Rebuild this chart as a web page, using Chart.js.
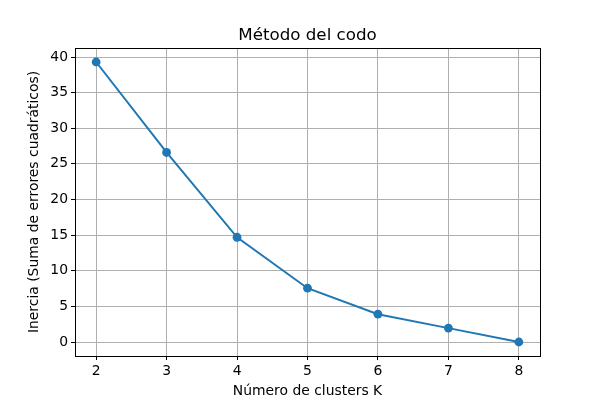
<!DOCTYPE html>
<html>
<head>
<meta charset="utf-8">
<script src="https://cdn.jsdelivr.net/npm/chart.js@4"></script>
<style>
html,body{margin:0;padding:0;background:#fff;}
#wrap{width:600px;height:400px;}
</style>
</head>
<body>
<div id="wrap"><canvas id="c" width="600" height="400"></canvas></div>
<script>
const clusters = [2, 3, 4, 5, 6, 7, 8];
const inertia = [39.3, 26.6, 14.7, 7.55, 3.9, 1.95, 0.0];
const xTicks = [2, 3, 4, 5, 6, 7, 8];
const yTicks = [0, 5, 10, 15, 20, 25, 30, 35, 40];
const chartTitle = 'Método del codo';

const FONT = "'DejaVu Sans', sans-serif";

const boxPlugin = {
  id: 'box',
  afterDraw(chart) {
    const {ctx, chartArea: a} = chart;
    ctx.save();
    ctx.strokeStyle = '#000';
    ctx.lineWidth = 1;
    ctx.strokeRect(Math.round(a.left) + 0.5, Math.round(a.top) + 0.5,
      Math.round(a.right - a.left), Math.round(a.bottom - a.top));
    ctx.fillStyle = '#000';
    ctx.font = '16.7px ' + FONT;
    ctx.textAlign = 'center';
    ctx.textBaseline = 'alphabetic';
    ctx.fillText(chartTitle, (a.left + a.right) / 2, a.top - 8.5);
    ctx.restore();
  }
};

new Chart(document.getElementById('c'), {
  type: 'line',
  data: {
    datasets: [{
      data: clusters.map((k, i) => ({x: k, y: inertia[i]})),
      borderColor: '#1f77b4',
      backgroundColor: '#1f77b4',
      borderWidth: 2,
      pointRadius: 4.4,
      pointHoverRadius: 4.4,
      pointBorderWidth: 0,
      tension: 0,
      clip: false
    }]
  },
  options: {
    responsive: false,
    animation: false,
    devicePixelRatio: 1,
    layout: {padding: {left: 0, right: 60, top: 48, bottom: 0}},
    plugins: {
      legend: {display: false},
      tooltip: {enabled: false},
      title: {display: false}
    },
    scales: {
      x: {
        type: 'linear',
        min: 1.7, max: 8.3,
        afterBuildTicks(s) { s.ticks = xTicks.map(v => ({value: v})); },
        afterFit(s) { s.height = 44; },
        grid: {color: '#b0b0b0', lineWidth: 1, tickLength: 4, tickColor: '#000', drawOnChartArea: true},
        border: {display: false},
        ticks: {color: '#000', font: {family: FONT, size: 13.9}, padding: 3, maxRotation: 0},
        title: {display: true, text: 'Número de clusters K', color: '#000',
          font: {family: FONT, size: 13.9}, padding: {top: 1, bottom: 0}}
      },
      y: {
        type: 'linear',
        min: -1.965, max: 41.265,
        afterBuildTicks(s) { s.ticks = yTicks.map(v => ({value: v})); },
        afterFit(s) { s.width = 75; },
        grid: {color: '#b0b0b0', lineWidth: 1, tickLength: 4, tickColor: '#000'},
        border: {display: false},
        ticks: {color: '#000', font: {family: FONT, size: 13.9}, padding: 3},
        title: {display: true, text: 'Inercia (Suma de errores cuadráticos)', color: '#000',
          font: {family: FONT, size: 13.9}, padding: {top: 26, bottom: 4}}
      }
    }
  },
  plugins: [boxPlugin]
});
</script>
</body>
</html>
